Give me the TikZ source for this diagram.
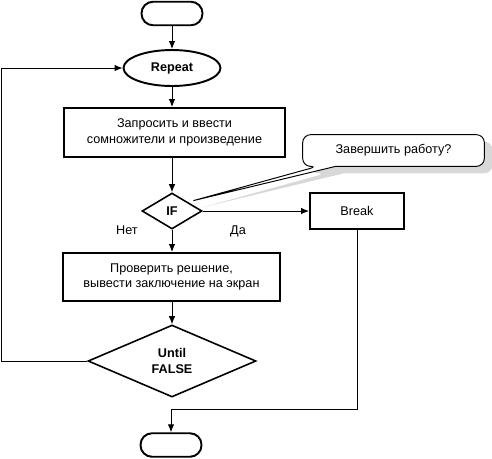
\documentclass[tikz,border=0pt]{standalone}
\usepackage{fontspec}
\setmainfont{Liberation Sans}
\usetikzlibrary{shapes.geometric,arrows.meta,shadows}

\begin{document}
\begin{tikzpicture}[x=0.02cm, y=-0.02cm, >={Latex[length=1.6mm,width=1.3mm]},
          every node/.style={font=\fontsize{7.2}{8.7}\selectfont, align=center, inner sep=0pt},
          term/.style={rectangle, rounded corners=0.23cm, draw, line width=1.1pt,
            minimum width=1.22cm, minimum height=0.47cm},
          oval/.style={ellipse, draw, line width=1.1pt, minimum width=1.94cm,
            minimum height=0.72cm, font=\fontsize{7.2}{8.7}\selectfont\bfseries},
          block/.style={rectangle, draw, line width=1.1pt},
          test/.style={diamond, draw, line width=0.9pt,
            font=\fontsize{7.2}{8.7}\selectfont\bfseries},
          link/.style={->, line width=0.55pt}]

          \useasboundingbox (0,0) rectangle (492,458);

          \node[term] (start) at (172,13.5) {};
          \node[oval] (rep) at (172,68) {Repeat};
          \node[block, minimum width=4.42cm, minimum height=0.98cm] (ask) at (174.5,132.5)
            {Запросить и ввести\\сомножители и произведение};
          \node[test, minimum width=1.2cm, minimum height=0.72cm] (if) at (172,211) {IF};
          \node[block, minimum width=1.88cm, minimum height=0.72cm] (brk) at (357,211) {Break};
          \node[block, minimum width=4.34cm, minimum height=0.96cm] (chk) at (171.5,277)
            {Проверить решение,\\вывести заключение на экран};
          \node[test, minimum width=3.36cm, minimum height=1.44cm] (until) at (172,361)
            {Until\\FALSE};
          \node[term] (stop) at (171,445) {};
          \node (no) at (127,230) {Нет};
          \node (yes) at (238,231) {Да};

          \node[minimum width=3.62cm, minimum height=0.62cm] (quit) at (393.5,150.5) {};
          \coordinate (tip) at ([xshift=0.12cm,yshift=0.02cm]if.north east);
          \draw[fill=white, line width=0.55pt, rounded corners=0.16cm,
            drop shadow={shadow xshift=0.16cm, shadow yshift=-0.14cm, fill=gray!60}]
            ([xshift=0.66cm]quit.south west) -- (quit.south east) -- (quit.north east)
            -- (quit.north west) -- (quit.south west) -- ([xshift=0.3cm]quit.south west)
            [sharp corners] -- (tip) -- cycle;
          \node at (quit) {Завершить работу?};

          \draw[link] (start) -- (rep);
          \draw[link] (rep) -- (rep |- ask.north);
          \draw[link] (ask.south -| if) -- (if);
          \draw[link] (if) -- (brk);
          \draw[link] (if) -- (if |- chk.north);
          \draw[link] (chk.south -| until) -- (until);
          \draw[link] (until.west) -- ++(-86,0) |- (rep.west);
          \draw[link] (brk.south) -- ++(0,179) -| (stop.north);
\end{tikzpicture}
\end{document}
